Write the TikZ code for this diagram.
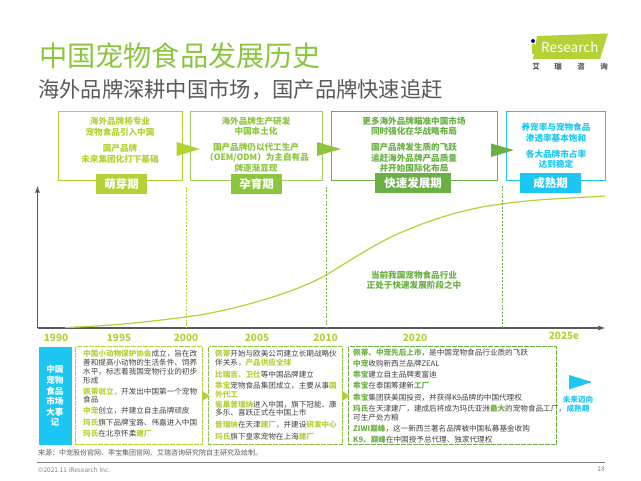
\documentclass[tikz,border=0pt]{standalone}
\usepackage{fontspec}
\setmainfont{Noto Sans CJK SC}
\usetikzlibrary{calc}
\definecolor{mylime}{RGB}{178, 210, 53}
\definecolor{mygreen}{RGB}{140, 198, 63}
\definecolor{mydark}{RGB}{106, 176, 69}
\definecolor{mycyan}{RGB}{28, 200, 243}
\definecolor{mytext}{RGB}{89, 89, 89}
\definecolor{myevent}{RGB}{64, 64, 64}
\definecolor{myaxis}{RGB}{89, 89, 89}
\newcommand{\fsz}[1]{\fontsize{#1}{#1}\selectfont}
\newcommand{\lm}[1]{\textcolor{mylime}{\bfseries #1}}
\newcommand{\gr}[1]{\textcolor{mydark}{\bfseries #1}}
\tikzset{>=latex,
  stagebox/.style = {line width = 1pt, fill = white},
  stagetag/.style = {text = white, font = \fsz{11.5}\bfseries, inner sep = 0pt, minimum height = 20pt, anchor = center},
  stagetext/.style = {font = \fsz{8.6}\bfseries, inner sep = 0pt, anchor = center},
  yearlab/.style = {text = mylime, font = \fsz{10}\bfseries, inner sep = 0pt},
  evbox/.style = {line width = 1pt, dashed, dash pattern = on 5pt off 1pt},
  evtext/.style = {text = myevent, font = \fsz{7.6}, inner sep = 0pt, anchor = west},
  stagedash/.style = {line width = 1pt, dash pattern = on 2pt off 1.5pt}
}
\begin{document}
\begin{tikzpicture}[x = 1pt, y = -1pt]
\useasboundingbox (0, 0) rectangle (641, 481);

\node[mygreen, font = \fsz{28.2}, inner sep = 0pt, anchor = west] (title) at (39, 56) {中国宠物食品发展历史};
\node[mytext, font = \fsz{21.3}, inner sep = 0pt, anchor = west] (subtitle) at (38, 90) {海外品牌深耕中国市场，国产品牌快速追赶};

\fill[mylime] (537, 36) -- (608, 33.5) -- (600, 59) -- (533, 59) -- cycle;
\fill[blue!60!black] (533, 41) circle [radius = 2];
\fill[mylime] (531.5, 44) rectangle (534.5, 54);
\node[white, font = \fsz{13.5}, inner sep = 0pt, anchor = west] (logo) at (541, 47) {Research};
\foreach \ch/\cx in {艾/536, 瑞/558, 咨/581, 询/604}
  \node[mytext, font = \fsz{7.5}\bfseries, inner sep = 0pt] (logo\ch) at (\cx, 67) {\ch};

\coordinate (ytop) at (37.5, 186);
\coordinate (orig) at (37.5, 328);
\coordinate (xend) at (605, 328);
\draw[->, myaxis, line width = 1.3pt] (orig) -- (ytop);
\draw[->, myaxis, line width = 1.3pt] (orig) -- (xend);

\draw[mylime, line width = 1.2pt] (65, 327.5) .. controls (110, 326) and (150, 322) .. (200, 315)
  .. controls (250, 306) and (300, 290) .. (326, 275)
  .. controls (345, 264) and (380, 240) .. (407, 230)
  .. controls (440, 216) and (475, 207) .. (502, 204)
  .. controls (535, 199) and (575, 198) .. (605, 196);

\draw[stagedash, mylime] (186, 187) -- (186, 328);
\draw[stagedash, mydark!80!mylime] (326, 187) -- (326, 328);
\draw[stagedash, mydark] (502, 186) -- (502, 328);

\draw[stagebox, draw = mylime] (58.5, 111.5) rectangle (182, 181);
\draw[stagebox, draw = mygreen!85!white] (190.5, 111.5) rectangle (322, 181);
\draw[stagebox, draw = mydark] (331, 111.5) rectangle (497, 181);
\draw[stagebox, draw = mycyan] (506, 111.5) rectangle (605, 180.5);

\fill[mylime] (176.5, 142) -- (200, 149) -- (176.5, 156) -- cycle;
\fill[mygreen] (317, 142) -- (341, 149) -- (317, 156) -- cycle;
\fill[mydark] (491, 143.5) -- (514, 150) -- (491, 157) -- cycle;

\node[stagetag, fill = mylime, minimum width = 51pt] (tag1) at (121.5, 184) {萌芽期};
\node[stagetag, fill = mygreen, minimum width = 51pt] (tag2) at (256.5, 184) {孕育期};
\node[stagetag, fill = mydark, minimum width = 76pt] (tag3) at (413, 183) {快速发展期};
\node[stagetag, fill = mycyan, minimum width = 61pt] (tag4) at (550.5, 183) {成熟期};

\node[stagetext, mylime] (s1a) at (120, 121) {海外品牌将专业};
\node[stagetext, mylime] (s1b) at (120, 132) {宠物食品引入中国};
\node[stagetext, mylime] (s1c) at (120, 148) {国产品牌};
\node[stagetext, mylime] (s1d) at (120, 159) {未来集团化打下基础};

\node[stagetext, mygreen] (s2a) at (256, 121) {海外品牌生产研发};
\node[stagetext, mygreen] (s2b) at (256, 131) {中国本土化};
\node[stagetext, mygreen] (s2c) at (256, 147) {国产品牌仍以代工生产};
\node[stagetext, mygreen] (s2d) at (257, 158) {（OEM/ODM）为主自有品};
\node[stagetext, mygreen] (s2e) at (256, 168) {牌逐渐显现};

\node[stagetext, mydark] (s3a) at (414, 121) {更多海外品牌瞄准中国市场};
\node[stagetext, mydark] (s3b) at (414, 131) {同时强化在华战略布局};
\node[stagetext, mydark] (s3c) at (414, 147) {国产品牌发生质的飞跃};
\node[stagetext, mydark] (s3d) at (414, 158) {追赶海外品牌产品质量};
\node[stagetext, mydark] (s3e) at (414, 168) {并开始国际化布局};

\node[stagetext, mycyan] (s4a) at (556, 127) {养宠率与宠物食品};
\node[stagetext, mycyan] (s4b) at (556, 138) {渗透率基本饱和};
\node[stagetext, mycyan] (s4c) at (556, 154) {各大品牌市占率};
\node[stagetext, mycyan] (s4d) at (556, 164) {达到稳定};

\node[stagetext, mydark] (now1) at (414, 275) {当前我国宠物食品行业};
\node[stagetext, mydark] (now2) at (414, 285) {正处于快速发展阶段之中};

\node[yearlab] (y1990) at (56, 338) {1990};
\node[yearlab] (y1995) at (119, 338) {1995};
\node[yearlab] (y2000) at (186, 338) {2000};
\node[yearlab] (y2005) at (257, 338) {2005};
\node[yearlab] (y2010) at (325.5, 338) {2010};
\node[yearlab] (y2020) at (415, 338) {2020};
\node[yearlab] (y2025) at (564, 336) {2025e};

\fill[mycyan] (38.5, 347) rectangle (71.5, 445);
\foreach \ch/\cy in {中国/369, 宠物/380, 食品/391, 市场/401, 大事/412, 记/422}
  \node[white, font = \fsz{8.6}\bfseries, inner sep = 0pt] (big\cy) at (55, \cy) {\ch};

\draw[evbox, mylime] (75.5, 347) rectangle (202.5, 445);
\draw[evbox, mygreen] (208.5, 347) rectangle (342.5, 445);
\draw[evbox, mydark] (348.5, 347) rectangle (556.5, 445);
\fill[mylime] (202, 391) -- (210, 396) -- (202, 401) -- cycle;
\fill[mylime] (342, 391) -- (350, 396) -- (342, 401) -- cycle;

\node[evtext] (a1) at (83, 354) {\lm{中国小动物保护协会}成立，旨在改};
\node[evtext] (a2) at (83, 362.5) {善和提高小动物的生活条件、饲养};
\node[evtext] (a3) at (83, 371.5) {水平，标志着我国宠物行业的初步};
\node[evtext] (a4) at (83, 380.5) {形成};
\node[evtext] (a5) at (83, 391.5) {\lm{佩蒂创立，}开发出中国第一个宠物};
\node[evtext] (a6) at (83, 400) {食品};
\node[evtext] (a7) at (83, 411) {\lm{中宠}创立，并建立自主品牌顽皮};
\node[evtext] (a8) at (83, 422.5) {\lm{玛氏}旗下品牌宝路、伟嘉进入中国};
\node[evtext] (a9) at (83, 434) {\lm{玛氏}在北京怀柔\lm{建厂}};

\node[evtext] (b1) at (215, 354) {\lm{佩蒂}开始与欧美公司建立长期战略伙};
\node[evtext] (b2) at (215, 363) {伴关系，\lm{产品供应全球}};
\node[evtext] (b3) at (215, 374.5) {\lm{比瑞吉、卫仕}等中国品牌建立};
\node[evtext] (b4) at (215, 386) {\lm{乖宝}宠物食品集团成立，主要从事\lm{国}};
\node[evtext] (b5) at (215, 395) {\lm{外代工}};
\node[evtext] (b6) at (215, 404.5) {\lm{雀巢普瑞纳}进入中国，旗下冠能、康};
\node[evtext] (b7) at (215, 413) {多乐、喜跃正式在中国上市};
\node[evtext] (b8) at (215, 425) {\lm{普瑞纳}在天津\lm{建厂}，并建设\lm{研发中心}};
\node[evtext] (b9) at (215, 436.5) {\lm{玛氏}旗下皇家宠物在上海\lm{建厂}};

\node[evtext] (c1) at (353, 352.5) {\gr{佩蒂、中宠先后上市}，是中国宠物食品行业质的飞跃};
\node[evtext] (c2) at (353, 364) {\gr{中宠}收购新西兰品牌ZEAL};
\node[evtext] (c3) at (353, 375) {\gr{乖宝}建立自主品牌麦富迪};
\node[evtext] (c4) at (353, 386) {\gr{乖宝}在泰国筹建新\gr{工厂}};
\node[evtext] (c5) at (353, 397.5) {\gr{乖宝}集团获美国投资，并获得K9品牌的中国代理权};
\node[evtext] (c6) at (353, 409) {\gr{玛氏}在天津建厂，建成后将成为玛氏亚洲\gr{最大}的宠物食品工厂，};
\node[evtext] (c7) at (353, 417.5) {可生产处方粮};
\node[evtext] (c8) at (353, 428.5) {\gr{ZIWI巅峰}，这一新西兰著名品牌被中国私募基金收购};
\node[evtext] (c9) at (353, 440) {\gr{K9、巅峰}在中国授予总代理、独家代理权};

\fill[mycyan] (569, 375) -- (592, 382) -- (569, 389.5) -- cycle;
\node[mycyan, font = \fsz{7.6}\bfseries, inner sep = 0pt] (fut1) at (578, 400) {未来迈向};
\node[mycyan, font = \fsz{7.6}\bfseries, inner sep = 0pt] (fut2) at (578, 409) {成熟期};

\node[mytext, font = \fsz{7}, inner sep = 0pt, anchor = west] (src) at (38, 453) {来源：中宠股份官网、乖宝集团官网、艾瑞咨询研究院自主研究及绘制。};
\draw[gray, line width = 0.8pt] (37, 462) -- (605, 462);
\node[gray, font = \fsz{6.5}, inner sep = 0pt, anchor = west] (copy) at (38, 469.5) {©2021.11 iResearch Inc.};
\node[gray, font = \fsz{6.5}, inner sep = 0pt] (page) at (601, 469.5) {18};
\end{tikzpicture}
\end{document}
